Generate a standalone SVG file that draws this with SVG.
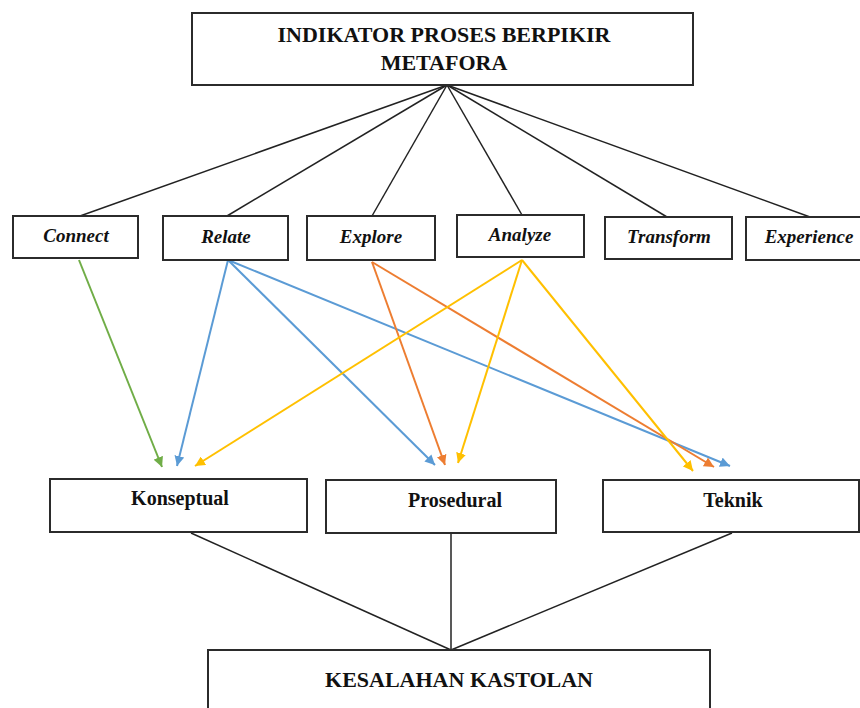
<svg xmlns="http://www.w3.org/2000/svg" width="860" height="708" viewBox="0 0 860 708">
<style>
.box{fill:#fff;stroke:#2b2b2b;stroke-width:2}
.t{font-family:"Liberation Serif","Times New Roman",serif;font-weight:bold;fill:#111;text-anchor:middle}
.big{font-size:22px}
.mid{font-size:20px}
.it{font-size:19px;font-style:italic}
.k{stroke:#222;stroke-width:1.5;fill:none}
.g{stroke:#70AD47;stroke-width:2;fill:none}
.b{stroke:#5B9BD5;stroke-width:2;fill:none}
.o{stroke:#ED7D31;stroke-width:2;fill:none}
.y{stroke:#FFC000;stroke-width:2;fill:none}
</style>
<defs>
<marker id="ag" viewBox="0 0 10 10" refX="10" refY="5" markerWidth="5" markerHeight="5" orient="auto" markerUnits="strokeWidth"><path d="M0,0L10,5L0,10z" fill="#70AD47"/></marker>
<marker id="ab" viewBox="0 0 10 10" refX="10" refY="5" markerWidth="5" markerHeight="5" orient="auto" markerUnits="strokeWidth"><path d="M0,0L10,5L0,10z" fill="#5B9BD5"/></marker>
<marker id="ao" viewBox="0 0 10 10" refX="10" refY="5" markerWidth="5" markerHeight="5" orient="auto" markerUnits="strokeWidth"><path d="M0,0L10,5L0,10z" fill="#ED7D31"/></marker>
<marker id="ay" viewBox="0 0 10 10" refX="10" refY="5" markerWidth="5" markerHeight="5" orient="auto" markerUnits="strokeWidth"><path d="M0,0L10,5L0,10z" fill="#FFC000"/></marker>
</defs>
<rect width="860" height="708" fill="#fff"/>
<g id="connectors">
<line class="k" x1="447" y1="85" x2="80" y2="216"/>
<line class="k" x1="447" y1="85" x2="227" y2="216"/>
<line class="k" x1="447" y1="85" x2="372" y2="216"/>
<line class="k" x1="447" y1="85" x2="522" y2="215"/>
<line class="k" x1="447" y1="85" x2="667" y2="217"/>
<line class="k" x1="447" y1="85" x2="810" y2="217"/>
<line class="g" x1="79" y1="260" x2="162" y2="467" marker-end="url(#ag)"/>
<line class="b" x1="228" y1="260" x2="177" y2="466" marker-end="url(#ab)"/>
<line class="b" x1="228" y1="260" x2="435" y2="465" marker-end="url(#ab)"/>
<line class="b" x1="228" y1="260" x2="730" y2="466" marker-end="url(#ab)"/>
<line class="o" x1="372" y1="262" x2="445" y2="465" marker-end="url(#ao)"/>
<line class="o" x1="372" y1="262" x2="714" y2="467" marker-end="url(#ao)"/>
<line class="y" x1="522" y1="260" x2="195" y2="466" marker-end="url(#ay)"/>
<line class="y" x1="522" y1="260" x2="458" y2="463" marker-end="url(#ay)"/>
<line class="y" x1="522" y1="260" x2="693" y2="471" marker-end="url(#ay)"/>
<line class="k" x1="191" y1="533" x2="451" y2="650"/>
<line class="k" x1="451" y1="534" x2="451" y2="650"/>
<line class="k" x1="732" y1="533" x2="451" y2="650"/>
</g>
<g id="top"><rect class="box" x="192" y="13" width="501" height="72"/>
<text class="t big" x="444" y="42">INDIKATOR PROSES BERPIKIR</text>
<text class="t big" x="444" y="70">METAFORA</text></g>
<g id="connect"><rect class="box" x="13" y="216" width="125" height="42"/><text class="t it" x="76" y="242">Connect</text></g>
<g id="relate"><rect class="box" x="163" y="216" width="125" height="44"/><text class="t it" x="226" y="243">Relate</text></g>
<g id="explore"><rect class="box" x="307" y="216" width="128" height="44"/><text class="t it" x="371" y="243">Explore</text></g>
<g id="analyze"><rect class="box" x="457" y="215" width="127" height="42"/><text class="t it" x="520" y="241">Analyze</text></g>
<g id="transform"><rect class="box" x="605" y="217" width="127" height="42"/><text class="t it" x="669" y="243">Transform</text></g>
<g id="experience"><rect class="box" x="746" y="217" width="126" height="43"/><text class="t it" x="809" y="243">Experience</text></g>
<g id="konseptual"><rect class="box" x="50" y="479" width="257" height="53"/><text class="t mid" x="180" y="505">Konseptual</text></g>
<g id="prosedural"><rect class="box" x="326" y="480" width="230" height="53"/><text class="t mid" x="455" y="507">Prosedural</text></g>
<g id="teknik"><rect class="box" x="603" y="480" width="256" height="52"/><text class="t mid" x="733" y="507">Teknik</text></g>
<g id="kesalahan"><rect class="box" x="208" y="650" width="502" height="70"/><text class="t big" x="459" y="687">KESALAHAN KASTOLAN</text></g>
</svg>
